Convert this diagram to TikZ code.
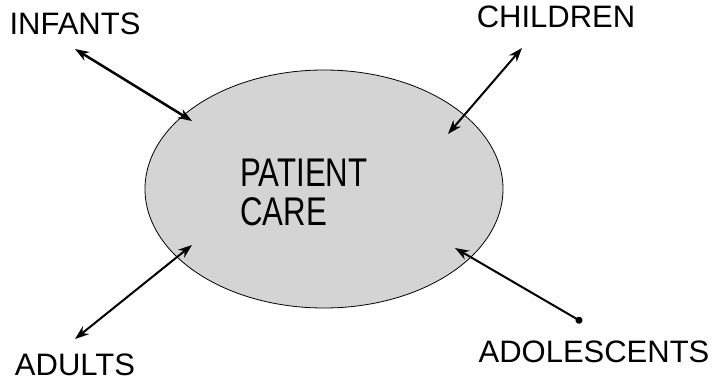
\documentclass[tikz,border=0pt]{standalone}
\usepackage{fontspec}
\setmainfont{Liberation Sans}
\usepackage{tikz}
\usetikzlibrary{calc}
\usetikzlibrary{shapes.geometric}
\usetikzlibrary{positioning}
\usetikzlibrary{arrows.meta}
\usepackage{xcolor}

\tikzset{
    group/.style={font=\fontsize{31}{34}\selectfont},
    link/.style={{Stealth[length=14pt, width=10pt]}-{Stealth[length=14pt, width=10pt]}, line width=2pt}
}

\begin{document}
\begin{tikzpicture}[x=1pt, y=-1pt]
    \useasboundingbox (0,0) rectangle (728,385);

    % 1. Draw the shaded ellipse in the middle
    \node[ellipse, draw, thick, fill=black!17, minimum width=358pt, minimum height=238pt] (care) at (324,189) {};
    \node[font=\fontsize{40}{39}\selectfont, align=left, xscale=0.78, transform shape] (caretext) at (304,192) {PATIENT\\CARE};

    % 2. Add the four age groups
    \node[group] (infants) at (75,24) {INFANTS};
    \node[group] (children) at (556,17) {CHILDREN};
    \node[group] (adults) at (75,365) {ADULTS};
    \node[group] (adolescents) at (594,352) {ADOLESCENTS};

    % 3. End points of the arrows
    \coordinate (infants out) at (75,49);
    \coordinate (infants in) at (192,121);
    \coordinate (children out) at (522,48);
    \coordinate (children in) at (448,134);
    \coordinate (adults out) at (75,339);
    \coordinate (adults in) at (192,245);
    \coordinate (adolescents out) at (582,322);
    \coordinate (adolescents in) at (455,248);

    % 4. Draw the arrows between the groups and the ellipse
    \draw[link, line width=2.5pt] (infants out) -- (infants in);
    \draw[link] (children out) -- (children in);
    \draw[link] (adults out) -- (adults in);
    \draw[line width=2pt, {Stealth[length=14pt, width=10pt]}-{Circle[length=7pt]}] (adolescents in) -- (adolescents out);

\end{tikzpicture}
\end{document}
